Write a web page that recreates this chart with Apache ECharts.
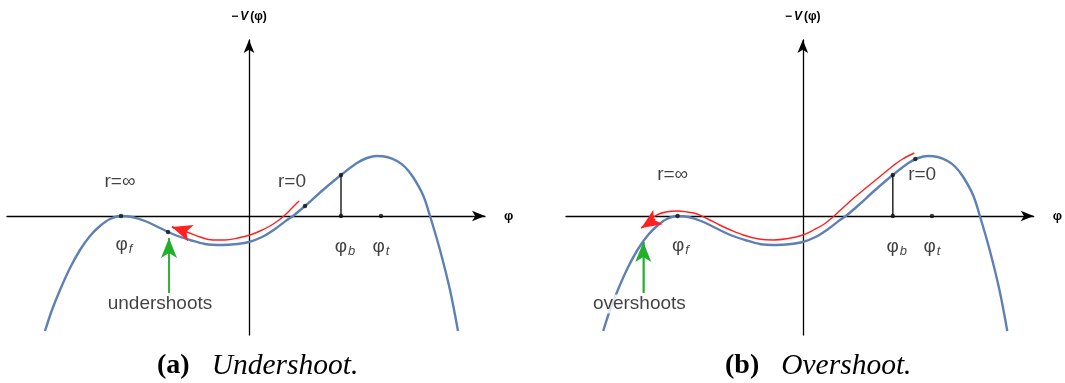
<!DOCTYPE html>
<html>
<head>
<meta charset="utf-8">
<script src="https://cdn.jsdelivr.net/npm/echarts@6/dist/echarts.min.js"></script>
<style>
html,body{margin:0;padding:0;background:#fff;}
#chart{width:1065px;height:383px;}
</style>
</head>
<body>
<div id="chart"></div>
<script>
// Potential -V(phi): sampled points (phi, -V) in plot units, shared by both panels
const potPhi = [-20.4,-19.7,-18.9,-17.9,-16.9,-15.9,-14.9,-13.9,-12.8,-11.7,-10.4,-8.9,-7.4,-5.9,-4.4,-2.7,-1.2,0,1.3,2.6,3.8,4.4,5.6,7.4,9.2,10.8,11.8,12.8,13.8,14.8,15.6,16.4,17.4,18.1,19.1,20.1,20.9];
const potV   = [-11.5,-9.4,-7.4,-5.2,-3.4,-2.0,-1.0,-0.3,0,-0.1,-0.5,-1.2,-1.9,-2.4,-2.8,-2.9,-2.8,-2.6,-2.1,-1.3,-0.4,0,1.0,2.6,4.1,5.3,5.8,6.0,5.9,5.5,4.9,3.9,2.1,0,-3.4,-7.4,-11.5];

// Trajectory that starts too low and falls back (undershoot)
const underPhi = [5.0,4.3,3.6,3.0,2.1,1.1,0.1,-1.1,-2.4,-3.6,-4.9,-6.2,-7.7];
const underV   = [1.5,0.8,0.1,-0.4,-1.0,-1.5,-1.9,-2.2,-2.4,-2.4,-2.1,-1.6,-1.1];

// Trajectory that starts too high and rolls past phi_f (overshoot)
const overPhi = [11.4,10.2,9.2,8.2,7.2,6.2,5.2,4.2,3.2,2.2,1.1,0,-1.5,-3.0,-4.5,-6.1,-7.5,-8.5,-9.7,-10.8,-11.8,-12.8,-14.0,-15.1,-16.5];
const overV   = [6.3,5.7,5.0,4.2,3.4,2.6,1.8,0.9,0,-0.8,-1.4,-1.9,-2.25,-2.4,-2.3,-1.9,-1.35,-0.9,-0.3,0.2,0.4,0.5,0.4,0,-1.2];

// Marked field values
const phiF = -12.8, phiB = 9.2, phiT = 13.2;
const phiBV = 4.1;
const underStart = [5.6, 1.0];   // r=0 start point, undershoot case
const underEnd = [-8.1, -1.6];   // where the undershooting solution turns back
const overStart = [11.5, 5.7];   // r=0 start point, overshoot case

// Arrow segments [from, tip]
const underRedArrow = [[-6.2, -1.6], [-7.7, -1.1]];
const overRedArrow = [[-15.1, -0.3], [-16.5, -1.2]];
const underGreenArrow = [[-8.0, -7.7], [-8.0, -2.2]];
const overGreenArrow = [[-16.3, -7.7], [-16.3, -2.6]];

// Annotation anchors for each panel
const labelsA = [
  {text: 'r=∞', at: [-12.9, 3.4]},
  {text: 'r=0', at: [4.3, 3.4]},
  {text: '{p|φ}{s|f}', at: [-12.5, -2.9]},
  {text: '{p|φ}{s|b}', at: [9.6, -3.1]},
  {text: '{p|φ}{s|t}', at: [13.2, -3.1]},
  {text: 'undershoots', at: [-8.9, -8.8]}
];
const labelsB = [
  {text: 'r=∞', at: [-13.3, 4.1]},
  {text: 'r=0', at: [12.2, 4.1]},
  {text: '{p|φ}{s|f}', at: [-12.5, -3.0]},
  {text: '{p|φ}{s|b}', at: [9.6, -3.1]},
  {text: '{p|φ}{s|t}', at: [13.2, -3.1]},
  {text: 'overshoots', at: [-16.7, -8.8]}
];

const zip = (xs, ys) => xs.map((x, i) => [x, ys[i]]);

const BLUE = '#5e81b5', RED = '#ff2020', GREEN = '#22b02c', INK = '#111';
const SANS = '"Liberation Sans", Arial, sans-serif';
const SERIF = '"Liberation Serif", serif';

const labelRich = {
  p: {fontSize: 19, fontFamily: SANS, color: INK},
  s: {fontSize: 13, fontFamily: SANS, fontStyle: 'italic', color: INK, padding: [9, 0, 0, 1]}
};

function axes(i, left) {
  const grid = {left: left, top: 40, width: 478, height: 295};
  const x = {
    gridIndex: i, type: 'value', min: -24.2, max: 23.6,
    axisLine: {onZero: true, symbol: ['none', 'arrow'], symbolSize: [8, 13], lineStyle: {color: '#000', width: 1.3}},
    axisTick: {show: false}, axisLabel: {show: false}, splitLine: {show: false},
    name: 'φ', nameLocation: 'end', nameGap: 19,
    nameTextStyle: {fontSize: 13, fontWeight: 'bold', fontFamily: SANS, color: '#000', verticalAlign: 'middle'}
  };
  const y = {
    gridIndex: i, type: 'value', min: -11.9, max: 17.6,
    axisLine: {onZero: true, symbol: ['none', 'arrow'], symbolSize: [8, 13], lineStyle: {color: '#000', width: 1.3}},
    axisTick: {show: false}, axisLabel: {show: false}, splitLine: {show: false},
    name: '{m|−}{v|V}{m|(φ)}', nameLocation: 'end', nameGap: 17,
    nameTextStyle: {
      rich: {
        m: {fontSize: 12, fontWeight: 'bold', fontFamily: SANS, color: '#000'},
        v: {fontSize: 12, fontWeight: 'bold', fontStyle: 'italic', fontFamily: SANS, color: '#000', padding: [0, 2, 0, 2]}
      }
    }
  };
  return {grid, x, y};
}

// A straight segment whose end carries an arrowhead (markLine orients it along the segment)
function arrowLine(i, seg, color, width, head) {
  return {
    type: 'line', xAxisIndex: i, yAxisIndex: i, data: seg, symbol: 'none',
    lineStyle: {color: color, width: width}, z: 4, silent: true,
    markLine: {
      silent: true, animation: false, symbol: ['none', 'arrow'], symbolSize: 16,
      label: {show: false},
      lineStyle: {color: color, width: width, type: 'solid'},
      itemStyle: {color: color},
      data: [[
        {coord: seg[0], symbol: 'none'},
        {coord: seg[1], symbol: 'arrow', symbolSize: head}
      ]]
    }
  };
}

function panelSeries(i, traj, redArrow, greenArrow, dots, labels) {
  return [
    {
      type: 'line', xAxisIndex: i, yAxisIndex: i, data: zip(potPhi, potV),
      smooth: 0.35, symbol: 'none', lineStyle: {color: BLUE, width: 2.4}, z: 2, silent: true
    },
    {
      type: 'line', xAxisIndex: i, yAxisIndex: i, data: traj,
      smooth: 0.35, symbol: 'none', lineStyle: {color: RED, width: 1.4}, z: 3, silent: true
    },
    arrowLine(i, redArrow, RED, 1.4, [13, 20]),
    {
      type: 'line', xAxisIndex: i, yAxisIndex: i, data: [[phiB, 0], [phiB, phiBV]],
      symbol: 'none', lineStyle: {color: '#333', width: 1.6}, z: 3, silent: true
    },
    arrowLine(i, greenArrow, GREEN, 1.5, [12, 20]),
    {
      type: 'scatter', xAxisIndex: i, yAxisIndex: i, data: dots,
      symbolSize: 4.5, itemStyle: {color: '#111'}, z: 6, silent: true
    },
    {
      type: 'scatter', xAxisIndex: i, yAxisIndex: i, symbolSize: 0, z: 7, silent: true,
      data: labels.map(l => ({
        value: l.at,
        label: {
          show: true, position: 'inside', formatter: l.text,
          fontSize: 19, fontFamily: SANS, color: INK, rich: labelRich,
          backgroundColor: /shoots/.test(l.text) ? '#fff' : 'transparent', padding: [0, 1]
        }
      }))
    }
  ];
}

function caption(left, tag, word) {
  return {
    type: 'text', left: left, top: 351, silent: true,
    style: {
      text: '{b|' + tag + '}{g|}{i|' + word + '}',
      rich: {
        b: {fontSize: 28, fontWeight: 'bold', fontFamily: SERIF, fill: '#000'},
        g: {width: 22},
        i: {fontSize: 29.5, fontStyle: 'italic', fontFamily: SERIF, fill: '#000'}
      }
    }
  };
}

const A = axes(0, 7), B = axes(1, 566);

const chart = echarts.init(document.getElementById('chart'), null, {renderer: 'canvas'});
chart.setOption({
  animation: false,
  backgroundColor: '#fff',
  grid: [A.grid, B.grid],
  xAxis: [A.x, B.x],
  yAxis: [A.y, B.y],
  series: [
    ...panelSeries(0, zip(underPhi, underV), underRedArrow, underGreenArrow,
      [[phiF, 0], underEnd, underStart, [phiB, phiBV], [phiB, 0], [phiT, 0]], labelsA),
    ...panelSeries(1, zip(overPhi, overV), overRedArrow, overGreenArrow,
      [[phiF, 0], overStart, [phiB, phiBV], [phiB, 0], [phiT, 0]], labelsB)
  ],
  graphic: [
    caption(157, '(a)', 'Undershoot.'),
    caption(725, '(b)', 'Overshoot.')
  ]
});
</script>
</body>
</html>
